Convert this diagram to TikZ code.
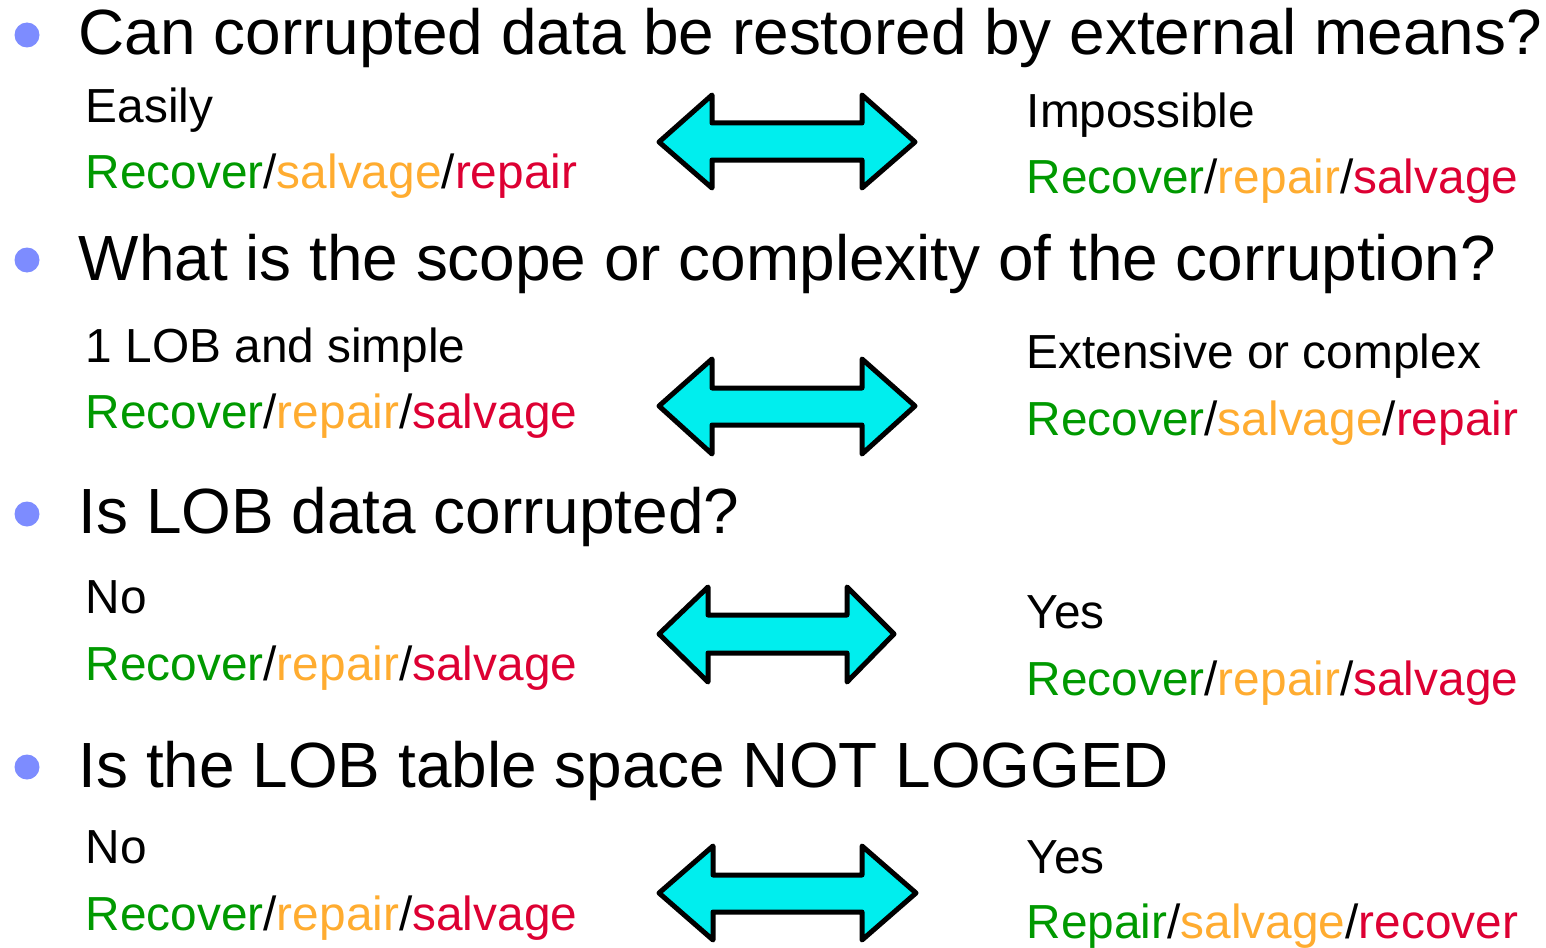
\documentclass[tikz,border=0pt]{standalone}
\usepackage{fontspec}
\setmainfont{Liberation Sans}
\definecolor{bulletblue}{RGB}{125,140,255}
\definecolor{goodgreen}{RGB}{0,153,0}
\definecolor{midorange}{RGB}{255,172,48}
\definecolor{badred}{RGB}{221,0,51}
\definecolor{arrowcyan}{RGB}{0,238,238}
\newcommand{\gr}[1]{\textcolor{goodgreen}{#1}}
\newcommand{\og}[1]{\textcolor{midorange}{#1}}
\newcommand{\rd}[1]{\textcolor{badred}{#1}}
\begin{document}
\begin{tikzpicture}[x=1pt,y=-1pt,
  heading/.style={anchor=base west,inner sep=0pt,font=\fontsize{63.9}{64}\selectfont},
  answer/.style={anchor=base west,inner sep=0pt,font=\fontsize{47.8}{48}\selectfont},
  dot/.style={circle,fill=bulletblue,inner sep=0pt,minimum size=25pt},
  bigarrow/.style={fill=arrowcyan,draw=black,line width=5pt,line join=round}]
\useasboundingbox (0,0) rectangle (1546,947);

% question 1
\node[dot] (b1) at (27,35) {};
\node[heading] (q1) at (78.5,55) {Can corrupted data be restored by external means?};
\node[answer] (l1a) at (85.5,123) {Easily};
\node[answer] (l1b) at (85.5,188) {\gr{Recover}/\og{salvage}/\rd{repair}};
\node[answer] (r1a) at (1026.5,128) {Impossible};
\node[answer] (r1b) at (1026.5,193) {\gr{Recover}/\og{repair}/\rd{salvage}};
\draw[bigarrow] (659,142) -- (712,95) -- (712,123) -- (862,123) -- (862,95) -- (915,142)
  -- (862,188) -- (862,160) -- (712,160) -- (712,188) -- cycle;

% question 2
\node[dot] (b2) at (27,260) {};
\node[heading] (q2) at (78.5,280) {What is the scope or complexity of the corruption?};
\node[answer] (l2a) at (85.5,362) {1 LOB and simple};
\node[answer] (l2b) at (85.5,428) {\gr{Recover}/\og{repair}/\rd{salvage}};
\node[answer] (r2a) at (1026.5,368) {Extensive or complex};
\node[answer] (r2b) at (1026.5,435) {\gr{Recover}/\og{salvage}/\rd{repair}};
\draw[bigarrow] (659,406) -- (712,359) -- (712,388) -- (862,388) -- (862,359) -- (915,406)
  -- (862,454) -- (862,425) -- (712,425) -- (712,454) -- cycle;

% question 3
\node[dot] (b3) at (27,514) {};
\node[heading] (q3) at (78.5,533) {Is LOB data corrupted?};
\node[answer] (l3a) at (85.5,613) {No};
\node[answer] (l3b) at (85.5,680) {\gr{Recover}/\og{repair}/\rd{salvage}};
\node[answer] (r3a) at (1026.5,628) {Yes};
\node[answer] (r3b) at (1026.5,695) {\gr{Recover}/\og{repair}/\rd{salvage}};
\draw[bigarrow] (659,634) -- (708,587) -- (708,615) -- (847,615) -- (847,587) -- (894,634)
  -- (847,682) -- (847,653) -- (708,653) -- (708,682) -- cycle;

% question 4
\node[dot] (b4) at (27,767) {};
\node[heading] (q4) at (78.5,787) {Is the LOB table space NOT LOGGED};
\node[answer] (l4a) at (85.5,863) {No};
\node[answer] (l4b) at (85.5,930) {\gr{Recover}/\og{repair}/\rd{salvage}};
\node[answer] (r4a) at (1026.5,873) {Yes};
\node[answer] (r4b) at (1026.5,938) {\gr{Repair}/\og{salvage}/\rd{recover}};
\draw[bigarrow] (659,893) -- (713,846) -- (713,875) -- (862,875) -- (862,846) -- (916,893)
  -- (862,940) -- (862,912) -- (713,912) -- (713,940) -- cycle;
\end{tikzpicture}
\end{document}
